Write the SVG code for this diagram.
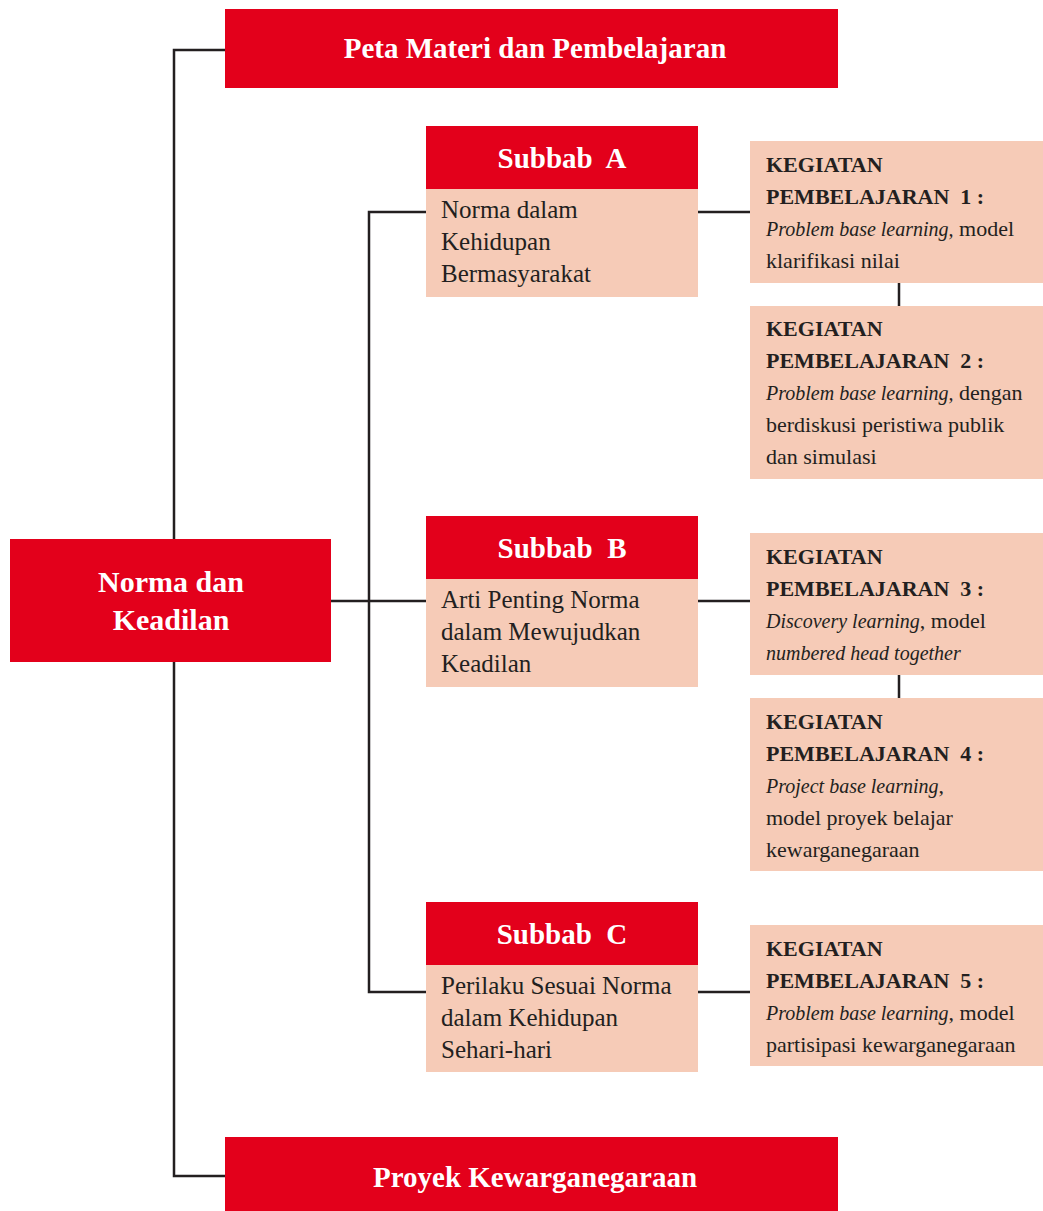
<svg xmlns="http://www.w3.org/2000/svg" width="1043" height="1211" viewBox="0 0 1043 1211">
<style>
.red{fill:#E3001B}
.peach{fill:#F6CBB7}
.w{fill:#fff;font-family:"Liberation Serif","Times New Roman",serif;font-weight:bold;font-size:29px;text-anchor:middle}
.b{fill:#231F20;font-family:"Liberation Serif","Times New Roman",serif;font-size:25px}
.k{fill:#231F20;font-family:"Liberation Serif","Times New Roman",serif;font-size:22px}
.kb{font-weight:bold}
.i{font-style:italic;font-size:20px}
.ln{fill:none;stroke:#231F20;stroke-width:2.5}
</style>
<rect width="1043" height="1211" fill="#fff"/>
<g id="connectors">
<path class="ln" d="M225,50 H174 V539 M174,662 V1176 H225"/>
<path class="ln" d="M331,601 H426 M426,212 H369 V992 H426"/>
<path class="ln" d="M698,212 H750 M698,601 H750 M698,992 H750"/>
<path class="ln" d="M899,283 V306 M899,675 V698"/>
</g>
<g id="peta">
<rect class="red" x="225" y="9" width="613" height="79"/>
<text class="w" x="535" y="58">Peta Materi dan Pembelajaran</text>
</g>
<g id="norma">
<rect class="red" x="10" y="539" width="321" height="123"/>
<text class="w" x="171" y="592" style="font-size:30px">Norma dan</text>
<text class="w" x="171" y="630" style="font-size:30px">Keadilan</text>
</g>
<g id="subbabA">
<rect class="red" x="426" y="126" width="272" height="63"/>
<rect class="peach" x="426" y="189" width="272" height="108"/>
<text class="w" x="562" y="168" xml:space="preserve">Subbab  A</text>
<text class="b" x="441" y="218">Norma dalam</text>
<text class="b" x="441" y="250">Kehidupan</text>
<text class="b" x="441" y="282">Bermasyarakat</text>
</g>
<g id="subbabB">
<rect class="red" x="426" y="516" width="272" height="63"/>
<rect class="peach" x="426" y="579" width="272" height="108"/>
<text class="w" x="562" y="558" xml:space="preserve">Subbab  B</text>
<text class="b" x="441" y="608">Arti Penting Norma</text>
<text class="b" x="441" y="640">dalam Mewujudkan</text>
<text class="b" x="441" y="672">Keadilan</text>
</g>
<g id="subbabC">
<rect class="red" x="426" y="902" width="272" height="63"/>
<rect class="peach" x="426" y="965" width="272" height="107"/>
<text class="w" x="562" y="944" xml:space="preserve">Subbab  C</text>
<text class="b" x="441" y="994">Perilaku Sesuai Norma</text>
<text class="b" x="441" y="1026">dalam Kehidupan</text>
<text class="b" x="441" y="1058">Sehari-hari</text>
</g>
<g id="kp1">
<rect class="peach" x="750" y="141" width="293" height="142"/>
<text class="k kb" x="766" y="172">KEGIATAN</text>
<text class="k kb" x="766" y="204" xml:space="preserve">PEMBELAJARAN  1 :</text>
<text class="k" x="766" y="236"><tspan class="i">Problem base learning,</tspan> model</text>
<text class="k" x="766" y="268">klarifikasi nilai</text>
</g>
<g id="kp2">
<rect class="peach" x="750" y="306" width="293" height="173"/>
<text class="k kb" x="766" y="336">KEGIATAN</text>
<text class="k kb" x="766" y="368" xml:space="preserve">PEMBELAJARAN  2 :</text>
<text class="k" x="766" y="400"><tspan class="i">Problem base learning,</tspan> dengan</text>
<text class="k" x="766" y="432">berdiskusi peristiwa publik</text>
<text class="k" x="766" y="464">dan simulasi</text>
</g>
<g id="kp3">
<rect class="peach" x="750" y="533" width="293" height="142"/>
<text class="k kb" x="766" y="564">KEGIATAN</text>
<text class="k kb" x="766" y="596" xml:space="preserve">PEMBELAJARAN  3 :</text>
<text class="k" x="766" y="628"><tspan class="i">Discovery learning</tspan>, model</text>
<text class="k i" x="766" y="660">numbered head together</text>
</g>
<g id="kp4">
<rect class="peach" x="750" y="698" width="293" height="173"/>
<text class="k kb" x="766" y="729">KEGIATAN</text>
<text class="k kb" x="766" y="761" xml:space="preserve">PEMBELAJARAN  4 :</text>
<text class="k" x="766" y="793"><tspan class="i">Project base learning</tspan>,</text>
<text class="k" x="766" y="825">model proyek belajar</text>
<text class="k" x="766" y="857">kewarganegaraan</text>
</g>
<g id="kp5">
<rect class="peach" x="750" y="925" width="293" height="141"/>
<text class="k kb" x="766" y="956">KEGIATAN</text>
<text class="k kb" x="766" y="988" xml:space="preserve">PEMBELAJARAN  5 :</text>
<text class="k" x="766" y="1020"><tspan class="i">Problem base learning</tspan>, model</text>
<text class="k" x="766" y="1052">partisipasi kewarganegaraan</text>
</g>
<g id="proyek">
<rect class="red" x="225" y="1137" width="613" height="74"/>
<text class="w" x="535" y="1187">Proyek Kewarganegaraan</text>
</g>
</svg>
